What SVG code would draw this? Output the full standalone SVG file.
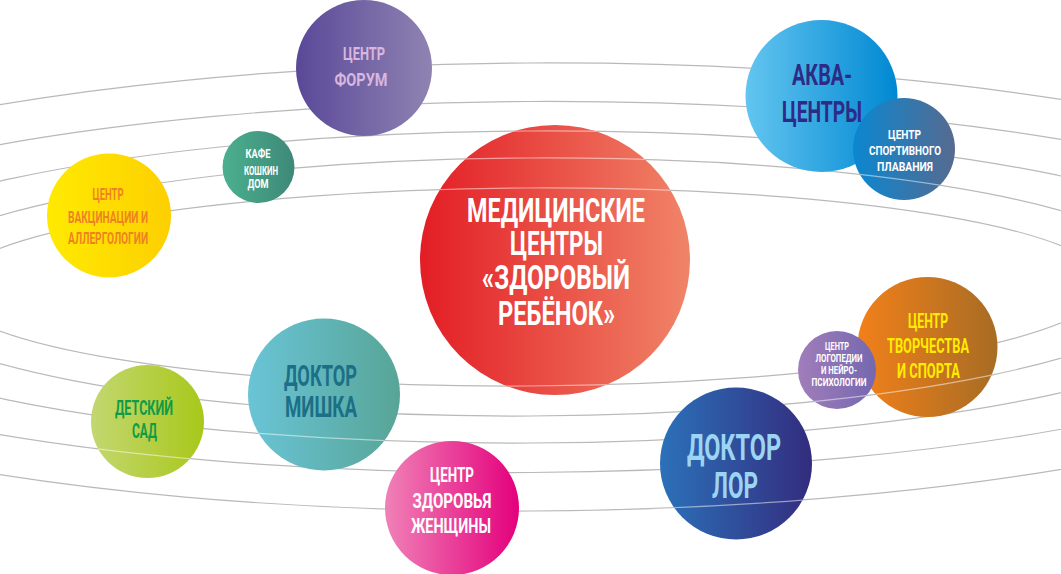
<svg xmlns="http://www.w3.org/2000/svg" xmlns:xlink="http://www.w3.org/1999/xlink" width="1061" height="574" viewBox="0 0 1061 574">
<style>
.t{font-family:Roboto,"Liberation Sans","DejaVu Sans",sans-serif;font-weight:700;text-anchor:middle}
.orb{fill:none;stroke:#b9b9b9;stroke-width:1.2}
.orbOver{fill:none;stroke:#ffffff;stroke-opacity:0.5;stroke-width:1.2}
</style>
<defs>
<linearGradient id="gForum"><stop offset="0" stop-color="#5a4898"/><stop offset="1" stop-color="#8f83b2"/></linearGradient>
<linearGradient id="gKafe"><stop offset="0" stop-color="#4bb08e"/><stop offset="1" stop-color="#3e8878"/></linearGradient>
<linearGradient id="gVac"><stop offset="0" stop-color="#ffea00"/><stop offset="1" stop-color="#fdcf00"/></linearGradient>
<linearGradient id="gSad"><stop offset="0" stop-color="#c3d770"/><stop offset="1" stop-color="#a8c81a"/></linearGradient>
<linearGradient id="gMish"><stop offset="0" stop-color="#69c4d6"/><stop offset="1" stop-color="#58a597"/></linearGradient>
<linearGradient id="gZhen"><stop offset="0" stop-color="#f081b7"/><stop offset="1" stop-color="#e4007c"/></linearGradient>
<linearGradient id="gMain"><stop offset="0" stop-color="#e31d25"/><stop offset="1" stop-color="#f08468"/></linearGradient>
<linearGradient id="gAqua"><stop offset="0" stop-color="#63c5f0"/><stop offset="1" stop-color="#0088d2"/></linearGradient>
<linearGradient id="gPlav"><stop offset="0" stop-color="#0a87d1"/><stop offset="1" stop-color="#566a90"/></linearGradient>
<linearGradient id="gTvor"><stop offset="0" stop-color="#f2801a"/><stop offset="1" stop-color="#a76c24"/></linearGradient>
<linearGradient id="gLogo"><stop offset="0" stop-color="#a17dba"/><stop offset="1" stop-color="#7468b0"/></linearGradient>
<linearGradient id="gLor"><stop offset="0" stop-color="#2c71b9"/><stop offset="1" stop-color="#332c7e"/></linearGradient>
<ellipse id="o1" cx="530" cy="287" rx="940" ry="224" transform="rotate(-0.3 530 287)"/>
<ellipse id="o2" cx="530" cy="287" rx="850" ry="185.5" transform="rotate(-0.3 530 287)"/>
<ellipse id="o3" cx="530" cy="287" rx="738" ry="156" transform="rotate(-0.3 530 287)"/>
<ellipse id="o4" cx="530" cy="287" rx="647" ry="129" transform="rotate(-0.3 530 287)"/>
<ellipse id="o5" cx="527" cy="287" rx="580" ry="99" transform="rotate(-0.3 530 287)"/>
<clipPath id="cLor"><circle cx="736" cy="463.5" r="76"/></clipPath>
<clipPath id="cSad"><circle cx="147.5" cy="421.5" r="56.5"/></clipPath>
<clipPath id="cO3"><circle cx="324" cy="394.5" r="76"/><circle cx="555" cy="260" r="135"/></clipPath>
<clipPath id="cO4"><circle cx="555" cy="260" r="135"/><circle cx="837" cy="370" r="39"/><circle cx="927.5" cy="347" r="70"/><circle cx="904" cy="149" r="51"/></clipPath>
<clipPath id="cRed"><circle cx="555" cy="260" r="135"/></clipPath>
</defs>
<rect width="1061" height="574" fill="#ffffff"/>
<g id="orbits" class="orb">
<use xlink:href="#o1"/>
<use xlink:href="#o2"/>
<use xlink:href="#o3"/>
<use xlink:href="#o4"/>
<use xlink:href="#o5"/>
</g>
<g id="node-forum">
<circle cx="364" cy="68" r="68" fill="url(#gForum)"/>
<text class="t" x="364" y="60" font-size="19" fill="#d8b6de" textLength="42" lengthAdjust="spacingAndGlyphs">ЦЕНТР</text>
<text class="t" x="361" y="86" font-size="19" fill="#d8b6de" textLength="53" lengthAdjust="spacingAndGlyphs">ФОРУМ</text>
</g>
<g id="node-kafe">
<circle cx="258.5" cy="167" r="36" fill="url(#gKafe)"/>
<text class="t" x="258" y="158" font-size="12.5" fill="#ffffff" textLength="25" lengthAdjust="spacingAndGlyphs">КАФЕ</text>
<text class="t" x="261" y="175" font-size="12.5" fill="#ffffff" textLength="34" lengthAdjust="spacingAndGlyphs">КОШКИН</text>
<text class="t" x="258" y="188" font-size="12.5" fill="#ffffff" textLength="21" lengthAdjust="spacingAndGlyphs">ДОМ</text>
</g>
<g id="node-vaccine">
<circle cx="109" cy="215.5" r="62" fill="url(#gVac)"/>
<text class="t" x="108" y="200" font-size="17" fill="#ee8223" textLength="31" lengthAdjust="spacingAndGlyphs">ЦЕНТР</text>
<text class="t" x="108" y="223" font-size="17" fill="#ee8223" textLength="80" lengthAdjust="spacingAndGlyphs">ВАКЦИНАЦИИ И</text>
<text class="t" x="108" y="244" font-size="17" fill="#ee8223" textLength="80" lengthAdjust="spacingAndGlyphs">АЛЛЕРГОЛОГИИ</text>
</g>
<g id="node-sad">
<circle cx="147.5" cy="421.5" r="56.5" fill="url(#gSad)"/>
<text class="t" x="144" y="415" font-size="20" fill="#0f9b47" textLength="58" lengthAdjust="spacingAndGlyphs">ДЕТСКИЙ</text>
<text class="t" x="144.5" y="438" font-size="20" fill="#0f9b47" textLength="25" lengthAdjust="spacingAndGlyphs">САД</text>
</g>
<g id="node-mishka">
<circle cx="324" cy="394.5" r="76" fill="url(#gMish)"/>
<text class="t" x="320.5" y="386" font-size="30" fill="#1b6f86" textLength="73" lengthAdjust="spacingAndGlyphs">ДОКТОР</text>
<text class="t" x="321" y="417" font-size="30" fill="#1b6f86" textLength="72" lengthAdjust="spacingAndGlyphs">МИШКА</text>
</g>
<g id="node-women">
<circle cx="452" cy="508" r="67" fill="url(#gZhen)"/>
<text class="t" x="452" y="482" font-size="20" fill="#ffffff" textLength="44" lengthAdjust="spacingAndGlyphs">ЦЕНТР</text>
<text class="t" x="452" y="508" font-size="20" fill="#ffffff" textLength="79" lengthAdjust="spacingAndGlyphs">ЗДОРОВЬЯ</text>
<text class="t" x="451" y="533" font-size="20" fill="#ffffff" textLength="80" lengthAdjust="spacingAndGlyphs">ЖЕНЩИНЫ</text>
</g>
<g id="node-main">
<circle cx="555" cy="260" r="135" fill="url(#gMain)"/>
<text class="t" x="556" y="222" font-size="34" fill="#ffffff" textLength="178" lengthAdjust="spacingAndGlyphs">МЕДИЦИНСКИЕ</text>
<text class="t" x="556.5" y="255" font-size="34" fill="#ffffff" textLength="93" lengthAdjust="spacingAndGlyphs">ЦЕНТРЫ</text>
<text class="t" x="556" y="289" font-size="34" fill="#ffffff" textLength="148" lengthAdjust="spacingAndGlyphs">«ЗДОРОВЫЙ</text>
<text class="t" x="556.5" y="325" font-size="34" fill="#ffffff" textLength="117" lengthAdjust="spacingAndGlyphs">РЕБЁНОК»</text>
</g>
<g id="node-aqua">
<circle cx="821.5" cy="96" r="76" fill="url(#gAqua)"/>
<text class="t" x="822" y="85" font-size="29" fill="#2e2a85" textLength="60" lengthAdjust="spacingAndGlyphs">АКВА-</text>
<text class="t" x="822" y="122" font-size="29" fill="#2e2a85" textLength="80" lengthAdjust="spacingAndGlyphs">ЦЕНТРЫ</text>
</g>
<g id="node-swim">
<circle cx="904" cy="149" r="51" fill="url(#gPlav)"/>
<text class="t" x="904.5" y="139" font-size="13" fill="#ffffff" textLength="33" lengthAdjust="spacingAndGlyphs">ЦЕНТР</text>
<text class="t" x="905" y="155" font-size="13" fill="#ffffff" textLength="72" lengthAdjust="spacingAndGlyphs">СПОРТИВНОГО</text>
<text class="t" x="905" y="171" font-size="13" fill="#ffffff" textLength="56" lengthAdjust="spacingAndGlyphs">ПЛАВАНИЯ</text>
</g>
<g id="node-tvor">
<circle cx="927.5" cy="347" r="70" fill="url(#gTvor)"/>
<text class="t" x="928" y="328" font-size="20" fill="#ffec00" textLength="40" lengthAdjust="spacingAndGlyphs">ЦЕНТР</text>
<text class="t" x="928" y="353" font-size="20" fill="#ffec00" textLength="82" lengthAdjust="spacingAndGlyphs">ТВОРЧЕСТВА</text>
<text class="t" x="928.5" y="378" font-size="20" fill="#ffec00" textLength="63" lengthAdjust="spacingAndGlyphs">И СПОРТА</text>
</g>
<g id="node-logo">
<circle cx="837" cy="370" r="39" fill="url(#gLogo)"/>
<text class="t" x="837" y="350" font-size="10.5" fill="#ffffff" textLength="24" lengthAdjust="spacingAndGlyphs">ЦЕНТР</text>
<text class="t" x="839" y="362" font-size="10.5" fill="#ffffff" textLength="47" lengthAdjust="spacingAndGlyphs">ЛОГОПЕДИИ</text>
<text class="t" x="839" y="374" font-size="10.5" fill="#ffffff" textLength="36" lengthAdjust="spacingAndGlyphs">И НЕЙРО-</text>
<text class="t" x="839" y="386" font-size="10.5" fill="#ffffff" textLength="55" lengthAdjust="spacingAndGlyphs">ПСИХОЛОГИИ</text>
</g>
<g id="node-lor">
<circle cx="736" cy="463.5" r="76" fill="url(#gLor)"/>
<text class="t" x="734" y="460" font-size="37" fill="#9bd5f3" textLength="94" lengthAdjust="spacingAndGlyphs">ДОКТОР</text>
<text class="t" x="735" y="498" font-size="37" fill="#9bd5f3" textLength="46" lengthAdjust="spacingAndGlyphs">ЛОР</text>
</g>
<g id="orbits-over" class="orbOver">
<g clip-path="url(#cLor)"><use xlink:href="#o1"/></g>
<g clip-path="url(#cSad)"><use xlink:href="#o2"/></g>
<g clip-path="url(#cO3)"><use xlink:href="#o3"/></g>
<g clip-path="url(#cO4)"><use xlink:href="#o4"/></g>
<g clip-path="url(#cRed)"><use xlink:href="#o5"/></g>
</g>
</svg>
